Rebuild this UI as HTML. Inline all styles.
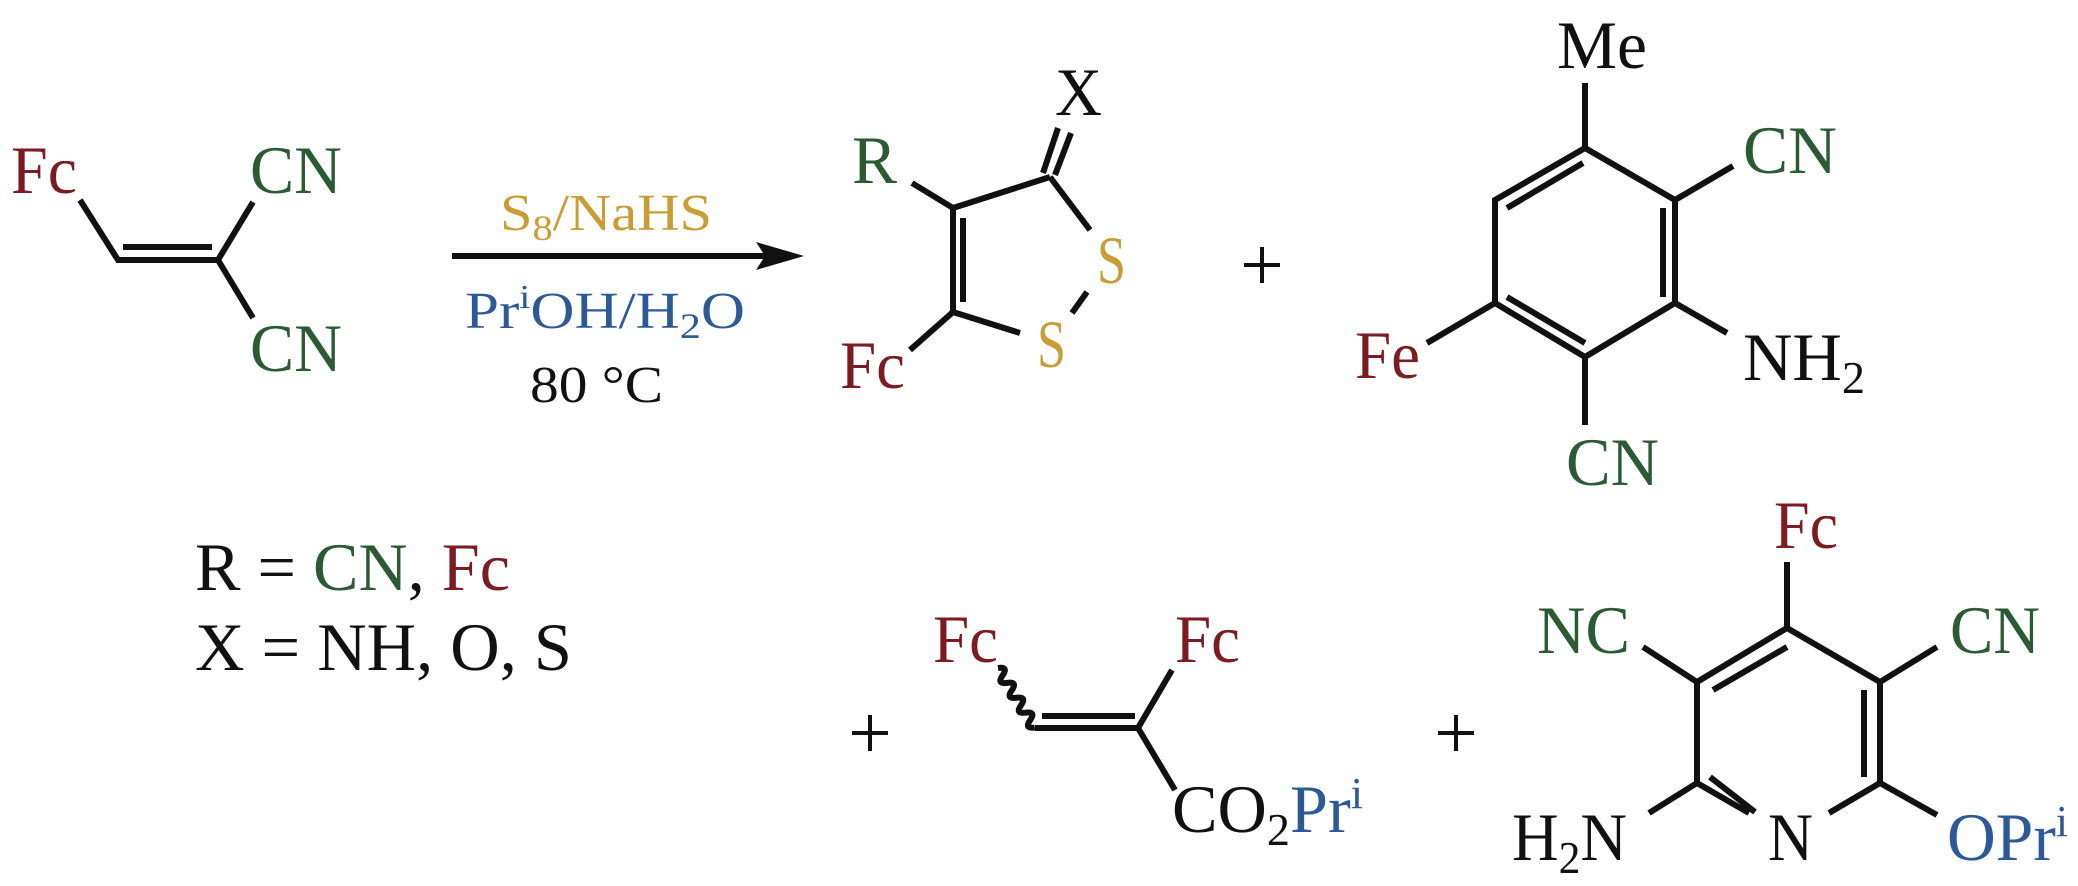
<!DOCTYPE html>
<html><head><meta charset="utf-8"><style>
html,body{margin:0;padding:0;background:#fff;}
svg{display:block;}
text{font-family:"Liberation Serif",serif;}
</style></head><body>
<svg width="2078" height="886" viewBox="0 0 2078 886" xmlns="http://www.w3.org/2000/svg">
<g stroke="#111" stroke-width="6" fill="none" stroke-linecap="butt">
<!-- reactant -->
<line x1="80" y1="200" x2="118" y2="260"/>
<line x1="116" y1="260" x2="220" y2="260"/>
<line x1="123" y1="247" x2="212" y2="247"/>
<line x1="218" y1="260" x2="253" y2="202"/>
<line x1="218" y1="260" x2="253" y2="318"/>
<!-- arrow -->
<line x1="452" y1="256" x2="770" y2="256"/>
<!-- dithiole -->
<line x1="912" y1="183" x2="953" y2="208"/>
<line x1="953" y1="206" x2="953" y2="314"/>
<line x1="963" y1="218" x2="963" y2="302"/>
<line x1="953" y1="208" x2="1050" y2="177"/>
<line x1="1050" y1="177" x2="1090" y2="230"/>
<line x1="1043" y1="173" x2="1058" y2="128"/>
<line x1="1055" y1="175" x2="1071" y2="133"/>
<line x1="1087" y1="292" x2="1072" y2="313"/>
<line x1="953" y1="312" x2="1020" y2="333"/>
<line x1="953" y1="312" x2="910" y2="350"/>
<!-- benzene -->
<line x1="1585" y1="83" x2="1585" y2="148"/>
<polygon points="1585,148 1675,200 1675,303 1585,357 1495,303 1495,200" stroke-linejoin="miter"/>
<line x1="1583" y1="163" x2="1507" y2="208"/>
<line x1="1663" y1="208" x2="1663" y2="297"/>
<line x1="1585" y1="343" x2="1507" y2="297"/>
<line x1="1675" y1="200" x2="1733" y2="166"/>
<line x1="1675" y1="303" x2="1727" y2="333"/>
<line x1="1495" y1="303" x2="1427" y2="343"/>
<line x1="1585" y1="357" x2="1585" y2="425"/>
<!-- alkene product -->
<path d="M0 0 q4.4 -10 8.75 0 t8.75 0 t8.75 0 t8.75 0 t8.75 0 t8.75 0 t8.75 0 t8.75 0" transform="translate(998,668) rotate(58.3)"/>
<line x1="1035" y1="728" x2="1141" y2="728"/>
<line x1="1042" y1="716" x2="1135" y2="716"/>
<line x1="1172" y1="670" x2="1138" y2="728"/>
<line x1="1138" y1="728" x2="1175" y2="790"/>
<!-- pyridine -->
<line x1="1787" y1="562" x2="1787" y2="628"/>
<polyline points="1749,813 1697,783 1697,682 1787,628 1880,682 1880,783 1829,813" stroke-linejoin="miter"/>
<line x1="1713" y1="690" x2="1787" y2="647"/>
<line x1="1864" y1="690" x2="1864" y2="777"/>
<line x1="1710" y1="777" x2="1755" y2="812"/>
<line x1="1697" y1="682" x2="1643" y2="647"/>
<line x1="1880" y1="682" x2="1937" y2="647"/>
<line x1="1697" y1="783" x2="1649" y2="813"/>
<line x1="1880" y1="783" x2="1937" y2="815"/>
<!-- plus signs -->
<g stroke-width="4">
<line x1="1244" y1="265" x2="1280" y2="265"/><line x1="1262" y1="247" x2="1262" y2="283"/>
<line x1="852" y1="733" x2="888" y2="733"/><line x1="870" y1="715" x2="870" y2="751"/>
<line x1="1438" y1="733" x2="1474" y2="733"/><line x1="1456" y1="715" x2="1456" y2="751"/>
</g>
</g>
<polygon points="804,256 756,242 765,256 756,270" fill="#111"/>
<g font-size="68" fill="#111">
<text x="11" y="193" fill="#7a1c22" textLength="66" lengthAdjust="spacingAndGlyphs">Fc</text>
<text x="250" y="193" fill="#2b5a35" textLength="92" lengthAdjust="spacingAndGlyphs">CN</text>
<text x="250" y="371" fill="#2b5a35" textLength="92" lengthAdjust="spacingAndGlyphs">CN</text>
<text x="1055" y="115" textLength="47" lengthAdjust="spacingAndGlyphs">X</text>
<text x="852" y="183" fill="#2b5a35" textLength="45" lengthAdjust="spacingAndGlyphs">R</text>
<text x="840" y="388" fill="#7a1c22" textLength="65" lengthAdjust="spacingAndGlyphs">Fc</text>
<text x="1097" y="283" fill="#c99d36" textLength="29" lengthAdjust="spacingAndGlyphs">S</text>
<text x="1037" y="367" fill="#c99d36" textLength="29" lengthAdjust="spacingAndGlyphs">S</text>
<text x="1355" y="378" fill="#7a1c22" textLength="65" lengthAdjust="spacingAndGlyphs">Fe</text>
<text x="1557" y="68" textLength="90" lengthAdjust="spacingAndGlyphs">Me</text>
<text x="1743" y="173" fill="#2b5a35" textLength="94" lengthAdjust="spacingAndGlyphs">CN</text>
<text x="1743" y="380" textLength="122" lengthAdjust="spacingAndGlyphs">NH<tspan font-size="46" dy="13">2</tspan></text>
<text x="1566" y="485" fill="#2b5a35" textLength="93" lengthAdjust="spacingAndGlyphs">CN</text>
<text x="195" y="590" textLength="315" lengthAdjust="spacingAndGlyphs">R = <tspan fill="#2b5a35">CN</tspan>, <tspan fill="#7a1c22">Fc</tspan></text>
<text x="195" y="670" textLength="377" lengthAdjust="spacingAndGlyphs">X = NH, O, S</text>
<text x="933" y="662" fill="#7a1c22" textLength="65" lengthAdjust="spacingAndGlyphs">Fc</text>
<text x="1175" y="662" fill="#7a1c22" textLength="65" lengthAdjust="spacingAndGlyphs">Fc</text>
<text x="1172" y="832" textLength="191" lengthAdjust="spacingAndGlyphs">CO<tspan font-size="46" dy="13">2</tspan><tspan fill="#2d5a96" dy="-13">Pr</tspan><tspan fill="#2d5a96" font-size="44" dy="-24">i</tspan></text>
<text x="1774" y="548" fill="#7a1c22" textLength="64" lengthAdjust="spacingAndGlyphs">Fc</text>
<text x="1537" y="653" fill="#2b5a35" textLength="93" lengthAdjust="spacingAndGlyphs">NC</text>
<text x="1950" y="653" fill="#2b5a35" textLength="90" lengthAdjust="spacingAndGlyphs">CN</text>
<text x="1768" y="860" textLength="45" lengthAdjust="spacingAndGlyphs">N</text>
<text x="1512" y="860" textLength="115" lengthAdjust="spacingAndGlyphs">H<tspan font-size="46" dy="13">2</tspan><tspan dy="-13">N</tspan></text>
<text x="1947" y="860" fill="#2d5a96" textLength="121" lengthAdjust="spacingAndGlyphs">OPr<tspan font-size="44" dy="-24">i</tspan></text>
</g>
<g font-size="52">
<text x="500" y="230" fill="#c99d36" textLength="212" lengthAdjust="spacingAndGlyphs">S<tspan font-size="36" dy="10">8</tspan><tspan dy="-10">/NaHS</tspan></text>
<text x="465" y="328" fill="#2d5a96" textLength="280" lengthAdjust="spacingAndGlyphs">Pr<tspan font-size="34" dy="-20">i</tspan><tspan dy="20">OH/H</tspan><tspan font-size="36" dy="10">2</tspan><tspan dy="-10">O</tspan></text>
<text x="530" y="402" fill="#111" textLength="133" lengthAdjust="spacingAndGlyphs">80 °C</text>
</g>
</svg>
</body></html>
